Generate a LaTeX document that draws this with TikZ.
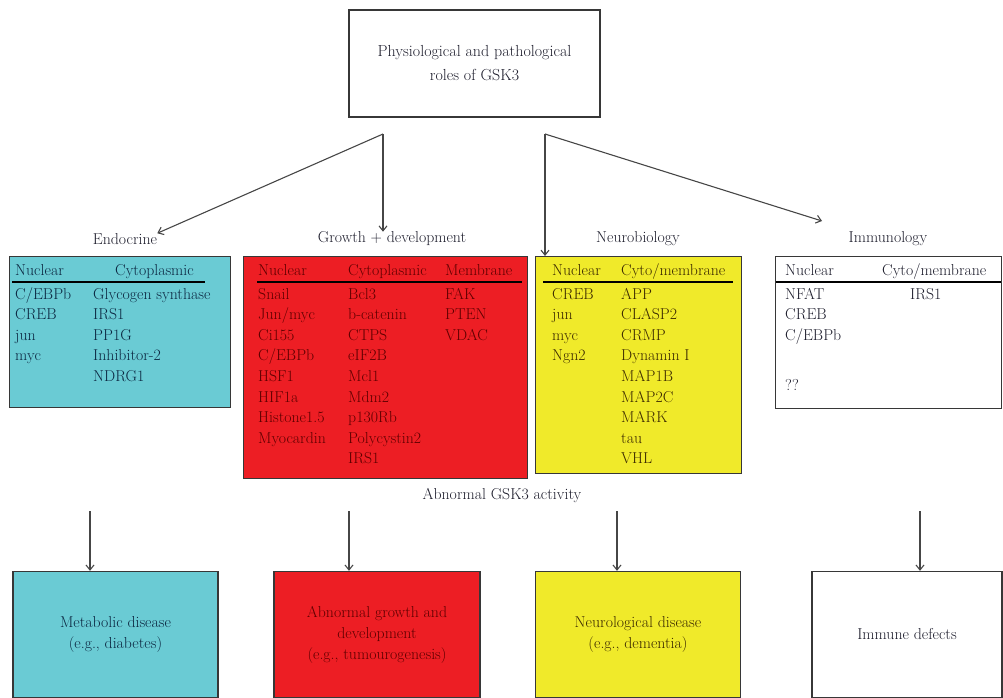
\documentclass[tikz,border=0pt]{standalone}
\usepackage{xcolor}
\usepackage{tikz}
\usetikzlibrary{arrows.meta,positioning,calc}

\definecolor{endocyan}{RGB}{106,203,212}
\definecolor{growred}{RGB}{237,30,36}
\definecolor{neuroyel}{RGB}{240,234,42}
\definecolor{boxgray}{RGB}{55,55,55}
\definecolor{linegray}{RGB}{70,70,70}
\definecolor{inkgray}{RGB}{30,30,45}
\definecolor{endoink}{RGB}{12,40,66}
\definecolor{growink}{RGB}{95,0,0}
\definecolor{neuroink}{RGB}{60,42,0}

\begin{document}
\begin{tikzpicture}[x=1pt,y=-1pt,
	box/.style={draw=boxgray,line width=1.3pt,inner sep=0pt},
	lbl/.style={font=\fontsize{15.8}{21}\selectfont,inner sep=0pt,text=inkgray},
	item/.style={lbl,anchor=base west},
	arr/.style={draw=linegray,line width=1.1pt,-{Straight Barb[length=5pt,width=8pt]}},
	rulebar/.style={line width=1.4pt}]
	\useasboundingbox (0,0) rectangle (1003,698);

	% top box and the four fields
	\node[box,lbl,align=center,minimum width=251pt,minimum height=107pt,font=\fontsize{16}{24}\selectfont] (roles) at (474.5,63.5) {Physiological and pathological\\roles of GSK3};
	\coordinate (forkL) at (383,134);
	\coordinate (forkR) at (545,134);
	\coordinate (immtip) at (822,221);

	\node[lbl] (endo) at (125,239) {Endocrine};
	\node[lbl] (growth) at (392,239) {Growth + development};
	\node[lbl] (neuro) at (638,239) {Neurobiology};
	\node[lbl] (immuno) at (888,239) {Immunology};

	% endocrine
	\node[box,fill=endocyan,anchor=north west,minimum width=221pt,minimum height=151pt] (endobox) at (9,256) {};
	\node[item,text=endoink] (endoN) at (15,275) {Nuclear};
	\node[item,text=endoink] (endoC) at (115,275) {Cytoplasmic};
	\draw[rulebar] (12,282) -- (205,282);
	\foreach \t [count=\i] in {C/EBPb,CREB,jun,myc}
		\node[item,text=endoink] (endoN\i) at (15,{299+20.6*(\i-1)}) {\t};
	\foreach \t [count=\i] in {Glycogen synthase,IRS1,PP1G,Inhibitor-2,NDRG1}
		\node[item,text=endoink] (endoC\i) at (93,{299+20.6*(\i-1)}) {\t};

	% growth + development
	\node[box,fill=growred,anchor=north west,minimum width=284pt,minimum height=222pt] (growbox) at (243,256) {};
	\node[item,text=growink] (growN) at (258,275) {Nuclear};
	\node[item,text=growink] (growC) at (348,275) {Cytoplasmic};
	\node[item,text=growink] (growM) at (445,275) {Membrane};
	\draw[rulebar] (257,282) -- (522,282);
	\foreach \t [count=\i] in {Snail,Jun/myc,Ci155,C/EBPb,HSF1,HIF1a,Histone1.5,Myocardin}
		\node[item,text=growink] (growN\i) at (258,{299+20.6*(\i-1)}) {\t};
	\foreach \t [count=\i] in {Bcl3,b-catenin,CTPS,eIF2B,Mcl1,Mdm2,p130Rb,Polycystin2,IRS1}
		\node[item,text=growink] (growC\i) at (348,{299+20.6*(\i-1)}) {\t};
	\foreach \t [count=\i] in {FAK,PTEN,VDAC}
		\node[item,text=growink] (growM\i) at (445,{299+20.6*(\i-1)}) {\t};

	% neurobiology
	\node[box,fill=neuroyel,anchor=north west,minimum width=206pt,minimum height=217pt] (neurobox) at (535,256) {};
	\node[item,text=neuroink] (neuroN) at (552,275) {Nuclear};
	\node[item,text=neuroink] (neuroC) at (621,275) {Cyto/membrane};
	\draw[rulebar] (543,282) -- (733,282);
	\foreach \t [count=\i] in {CREB,jun,myc,Ngn2}
		\node[item,text=neuroink] (neuroN\i) at (552,{299+20.6*(\i-1)}) {\t};
	\foreach \t [count=\i] in {APP,CLASP2,CRMP,Dynamin I,MAP1B,MAP2C,MARK,tau,VHL}
		\node[item,text=neuroink] (neuroC\i) at (621,{299+20.6*(\i-1)}) {\t};

	% immunology
	\node[box,anchor=north west,minimum width=226pt,minimum height=152pt] (immbox) at (775,256) {};
	\node[item] (immN) at (785,275) {Nuclear};
	\node[item] (immC) at (882,275) {Cyto/membrane};
	\draw[rulebar] (776,282) -- (1001,282);
	\foreach \t [count=\i] in {NFAT,CREB,C/EBPb}
		\node[item] (immN\i) at (785,{299+20.6*(\i-1)}) {\t};
	\node[item] (immQ) at (785,390) {??};
	\node[item] (immC1) at (910,299) {IRS1};

	\draw[arr] (forkL) -- (endo.north east);
	\draw[arr] (forkL) -- (forkL |- growth.north);
	\draw[arr] (forkR) -- (forkR |- neurobox.north);
	\draw[arr] (forkR) -- (immtip);

	\node[lbl] (abnormal) at (502,496) {Abnormal GSK3 activity};

	% diseases
	\node[box,lbl,fill=endocyan,text=endoink,align=center,minimum width=205pt,minimum height=126pt] (metab) at (115.5,634.5) {Metabolic disease\\(e.g., diabetes)};
	\node[box,lbl,fill=growred,text=growink,align=center,minimum width=206pt,minimum height=126pt] (abgrowth) at (377,634.5) {Abnormal growth and\\development\\(e.g., tumourogenesis)};
	\node[box,lbl,fill=neuroyel,text=neuroink,align=center,minimum width=205pt,minimum height=126pt] (neurodis) at (638,634.5) {Neurological disease\\(e.g., dementia)};
	\node[box,lbl,align=center,minimum width=190pt,minimum height=126pt] (immdef) at (907,634.5) {Immune defects};

	\coordinate (d1) at (90,511);
	\coordinate (d2) at (349,511);
	\coordinate (d3) at (617,511);
	\coordinate (d4) at (920,511);
	\draw[arr] (d1) -- (d1 |- metab.north);
	\draw[arr] (d2) -- (d2 |- abgrowth.north);
	\draw[arr] (d3) -- (d3 |- neurodis.north);
	\draw[arr] (d4) -- (d4 |- immdef.north);
\end{tikzpicture}
\end{document}
